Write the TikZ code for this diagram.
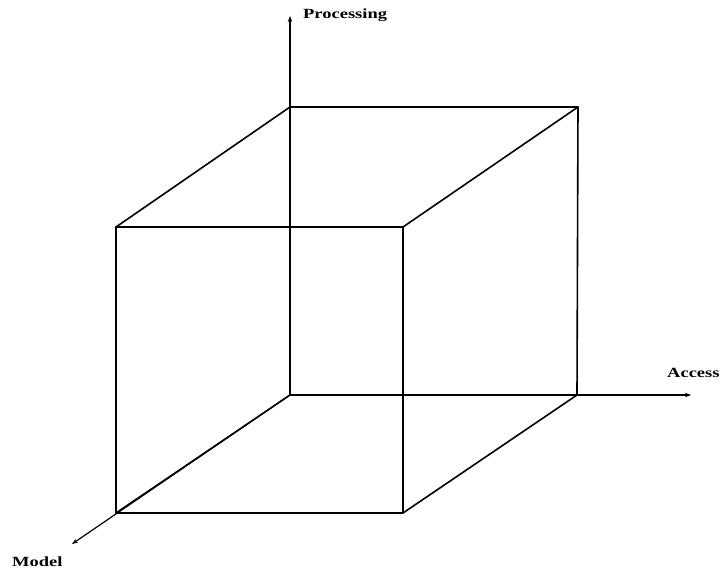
\documentclass[tikz,border=0pt]{standalone}
\usepackage{fontspec}
\usepackage{graphicx}
\setmainfont{Liberation Serif}
\usetikzlibrary{arrows.meta}
\begin{document}
\begin{tikzpicture}[x=1pt,y=-1pt,
  edge/.style={line width=1.6pt, line cap=round, line join=round},
  axis/.style={line width=1.2pt,-{Stealth[length=6pt,width=4.5pt]}},
  lbl/.style={font=\bfseries\fontsize{14}{14}\selectfont, inner sep=0pt}]
\useasboundingbox (0,0) rectangle (721,570);
% corners
\coordinate (O)  at (290,395);
\coordinate (B1) at (290,107);
\coordinate (B2) at (578,107);
\coordinate (B3) at (577,395);
\coordinate (F1) at (116,227);
\coordinate (F2) at (403,227);
\coordinate (F3) at (403,513);
\coordinate (F4) at (116,513);
% axis ends
\coordinate (P) at (290,16);
\coordinate (A) at (691,395);
\coordinate (M) at (72,544);
% axes
\draw[axis] (O) -- (P);
\draw[axis] (O) -- (A);
\draw[axis] (O) -- (M);
% cube
\draw[edge] (F1) -- (F2) -- (F3) -- (F4) -- cycle;
\draw[edge] (O) -- (B1) -- (B2) -- (B3) -- cycle;
\draw[edge] (F1) -- (B1);
\draw[edge] (F2) -- (B2);
\draw[edge] (F3) -- (B3);
\draw[edge] (F4) -- (O);
% labels
\node[lbl, anchor=base west] (lp) at (303,19) {\scalebox{1.32}[1]{Processing}};
\node[lbl, anchor=base west] (la) at (667,377) {\scalebox{1.32}[1]{Access}};
\node[lbl, anchor=base west] (lm) at (12,566) {\scalebox{1.32}[1]{Model}};
\end{tikzpicture}
\end{document}
